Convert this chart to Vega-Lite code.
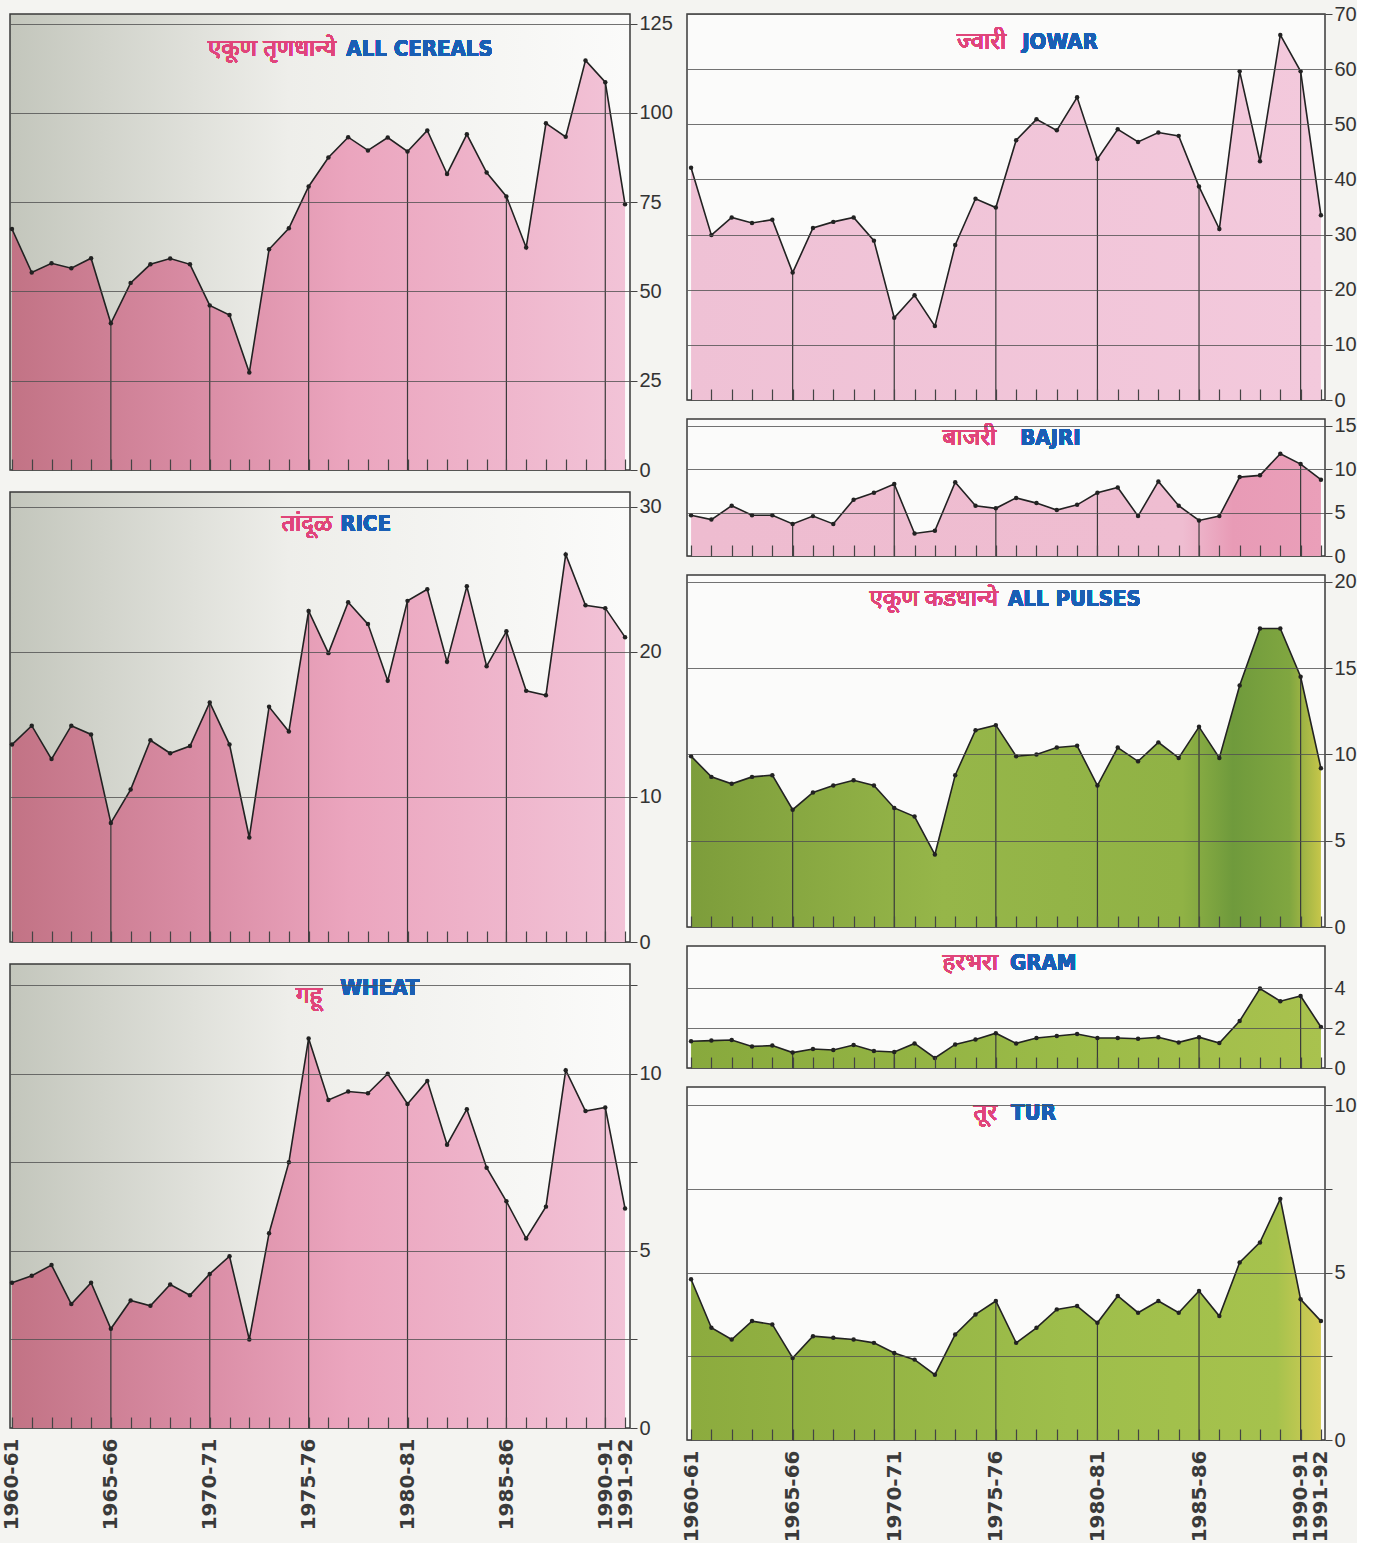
{
  "$schema": "https://vega.github.io/schema/vega-lite/v6.json",
  "background": "#f4f4f1",
  "padding": {"left": 1, "top": 3, "right": 0, "bottom": 0},
  "config": {
    "view": {"stroke": "#3a3a3a", "strokeWidth": 1.5},
    "axis": {"labelFont": "Liberation Sans", "labelColor": "#333333", "gridColor": "#505050", "gridOpacity": 0.8, "gridWidth": 1, "tickColor": "#444444", "domain": false}
  },
  "datasets": {
    "cereals": [
      {"year":1960,"v":67.5},{"year":1961,"v":55.3},{"year":1962,"v":57.9},{"year":1963,"v":56.5},{"year":1964,"v":59.3},{"year":1965,"v":41.1},{"year":1966,"v":52.4},{"year":1967,"v":57.6},{"year":1968,"v":59.2},{"year":1969,"v":57.6},{"year":1970,"v":46.1},{"year":1971,"v":43.4},{"year":1972,"v":27.3},{"year":1973,"v":61.8},{"year":1974,"v":67.7},{"year":1975,"v":79.4},{"year":1976,"v":87.5},{"year":1977,"v":93.2},{"year":1978,"v":89.5},{"year":1979,"v":93.1},{"year":1980,"v":89.2},{"year":1981,"v":95.1},{"year":1982,"v":82.9},{"year":1983,"v":94.0},{"year":1984,"v":83.3},{"year":1985,"v":76.6},{"year":1986,"v":62.3},{"year":1987,"v":97.1},{"year":1988,"v":93.3},{"year":1989,"v":114.7},{"year":1990,"v":108.6},{"year":1991,"v":74.4}
    ],
    "rice": [
      {"year":1960,"v":13.6},{"year":1961,"v":14.9},{"year":1962,"v":12.6},{"year":1963,"v":14.9},{"year":1964,"v":14.3},{"year":1965,"v":8.2},{"year":1966,"v":10.5},{"year":1967,"v":13.9},{"year":1968,"v":13.0},{"year":1969,"v":13.5},{"year":1970,"v":16.5},{"year":1971,"v":13.6},{"year":1972,"v":7.2},{"year":1973,"v":16.2},{"year":1974,"v":14.5},{"year":1975,"v":22.8},{"year":1976,"v":19.9},{"year":1977,"v":23.4},{"year":1978,"v":21.9},{"year":1979,"v":18.0},{"year":1980,"v":23.5},{"year":1981,"v":24.3},{"year":1982,"v":19.3},{"year":1983,"v":24.5},{"year":1984,"v":19.0},{"year":1985,"v":21.4},{"year":1986,"v":17.3},{"year":1987,"v":17.0},{"year":1988,"v":26.7},{"year":1989,"v":23.2},{"year":1990,"v":23.0},{"year":1991,"v":21.0}
    ],
    "wheat": [
      {"year":1960,"v":4.1},{"year":1961,"v":4.3},{"year":1962,"v":4.6},{"year":1963,"v":3.5},{"year":1964,"v":4.1},{"year":1965,"v":2.8},{"year":1966,"v":3.6},{"year":1967,"v":3.45},{"year":1968,"v":4.05},{"year":1969,"v":3.75},{"year":1970,"v":4.35},{"year":1971,"v":4.85},{"year":1972,"v":2.5},{"year":1973,"v":5.5},{"year":1974,"v":7.5},{"year":1975,"v":11.0},{"year":1976,"v":9.26},{"year":1977,"v":9.5},{"year":1978,"v":9.45},{"year":1979,"v":10.0},{"year":1980,"v":9.15},{"year":1981,"v":9.8},{"year":1982,"v":8.0},{"year":1983,"v":9.0},{"year":1984,"v":7.35},{"year":1985,"v":6.4},{"year":1986,"v":5.35},{"year":1987,"v":6.25},{"year":1988,"v":10.1},{"year":1989,"v":8.95},{"year":1990,"v":9.05},{"year":1991,"v":6.2}
    ],
    "jowar": [
      {"year":1960,"v":42.1},{"year":1961,"v":29.9},{"year":1962,"v":33.1},{"year":1963,"v":32.1},{"year":1964,"v":32.7},{"year":1965,"v":23.1},{"year":1966,"v":31.2},{"year":1967,"v":32.3},{"year":1968,"v":33.1},{"year":1969,"v":28.9},{"year":1970,"v":14.9},{"year":1971,"v":19.0},{"year":1972,"v":13.4},{"year":1973,"v":28.1},{"year":1974,"v":36.5},{"year":1975,"v":34.9},{"year":1976,"v":47.1},{"year":1977,"v":50.9},{"year":1978,"v":48.9},{"year":1979,"v":54.9},{"year":1980,"v":43.7},{"year":1981,"v":49.1},{"year":1982,"v":46.8},{"year":1983,"v":48.5},{"year":1984,"v":47.9},{"year":1985,"v":38.7},{"year":1986,"v":31.0},{"year":1987,"v":59.6},{"year":1988,"v":43.3},{"year":1989,"v":66.2},{"year":1990,"v":59.6},{"year":1991,"v":33.5}
    ],
    "bajri": [
      {"year":1960,"v":4.7},{"year":1961,"v":4.2},{"year":1962,"v":5.8},{"year":1963,"v":4.7},{"year":1964,"v":4.7},{"year":1965,"v":3.7},{"year":1966,"v":4.6},{"year":1967,"v":3.7},{"year":1968,"v":6.5},{"year":1969,"v":7.3},{"year":1970,"v":8.3},{"year":1971,"v":2.6},{"year":1972,"v":2.9},{"year":1973,"v":8.5},{"year":1974,"v":5.8},{"year":1975,"v":5.5},{"year":1976,"v":6.7},{"year":1977,"v":6.1},{"year":1978,"v":5.3},{"year":1979,"v":5.9},{"year":1980,"v":7.3},{"year":1981,"v":7.9},{"year":1982,"v":4.6},{"year":1983,"v":8.6},{"year":1984,"v":5.8},{"year":1985,"v":4.1},{"year":1986,"v":4.6},{"year":1987,"v":9.1},{"year":1988,"v":9.3},{"year":1989,"v":11.8},{"year":1990,"v":10.6},{"year":1991,"v":8.8}
    ],
    "pulses": [
      {"year":1960,"v":9.9},{"year":1961,"v":8.7},{"year":1962,"v":8.3},{"year":1963,"v":8.7},{"year":1964,"v":8.8},{"year":1965,"v":6.8},{"year":1966,"v":7.8},{"year":1967,"v":8.2},{"year":1968,"v":8.5},{"year":1969,"v":8.2},{"year":1970,"v":6.9},{"year":1971,"v":6.4},{"year":1972,"v":4.2},{"year":1973,"v":8.8},{"year":1974,"v":11.4},{"year":1975,"v":11.7},{"year":1976,"v":9.9},{"year":1977,"v":10.0},{"year":1978,"v":10.4},{"year":1979,"v":10.5},{"year":1980,"v":8.2},{"year":1981,"v":10.4},{"year":1982,"v":9.6},{"year":1983,"v":10.7},{"year":1984,"v":9.8},{"year":1985,"v":11.6},{"year":1986,"v":9.8},{"year":1987,"v":14.0},{"year":1988,"v":17.3},{"year":1989,"v":17.3},{"year":1990,"v":14.5},{"year":1991,"v":9.2}
    ],
    "gram": [
      {"year":1960,"v":1.34},{"year":1961,"v":1.37},{"year":1962,"v":1.4},{"year":1963,"v":1.08},{"year":1964,"v":1.12},{"year":1965,"v":0.77},{"year":1966,"v":0.95},{"year":1967,"v":0.9},{"year":1968,"v":1.15},{"year":1969,"v":0.85},{"year":1970,"v":0.8},{"year":1971,"v":1.23},{"year":1972,"v":0.5},{"year":1973,"v":1.18},{"year":1974,"v":1.42},{"year":1975,"v":1.74},{"year":1976,"v":1.23},{"year":1977,"v":1.5},{"year":1978,"v":1.6},{"year":1979,"v":1.7},{"year":1980,"v":1.5},{"year":1981,"v":1.5},{"year":1982,"v":1.46},{"year":1983,"v":1.54},{"year":1984,"v":1.28},{"year":1985,"v":1.54},{"year":1986,"v":1.25},{"year":1987,"v":2.35},{"year":1988,"v":3.97},{"year":1989,"v":3.34},{"year":1990,"v":3.6},{"year":1991,"v":2.05}
    ],
    "tur": [
      {"year":1960,"v":4.8},{"year":1961,"v":3.35},{"year":1962,"v":3.0},{"year":1963,"v":3.55},{"year":1964,"v":3.45},{"year":1965,"v":2.45},{"year":1966,"v":3.1},{"year":1967,"v":3.05},{"year":1968,"v":3.0},{"year":1969,"v":2.9},{"year":1970,"v":2.6},{"year":1971,"v":2.4},{"year":1972,"v":1.95},{"year":1973,"v":3.15},{"year":1974,"v":3.75},{"year":1975,"v":4.15},{"year":1976,"v":2.9},{"year":1977,"v":3.35},{"year":1978,"v":3.9},{"year":1979,"v":4.0},{"year":1980,"v":3.5},{"year":1981,"v":4.3},{"year":1982,"v":3.8},{"year":1983,"v":4.15},{"year":1984,"v":3.8},{"year":1985,"v":4.45},{"year":1986,"v":3.7},{"year":1987,"v":5.3},{"year":1988,"v":5.9},{"year":1989,"v":7.2},{"year":1990,"v":4.2},{"year":1991,"v":3.55}
    ]
  },
  "spacing": 6,
  "hconcat": [
    {
      "spacing": 22,
      "bounds": "flush",
      "vconcat": [
        {
          "width": 620, "height": 456,
          "view": {"fill": {"gradient": "linear", "x1": 0, "x2": 1, "y1": 0, "y2": 0, "stops": [{"offset": 0, "color": "#c3c6bc"}, {"offset": 0.45, "color": "#eeeeea"}, {"offset": 1, "color": "#fbfbfa"}]}},
          "data": {"name": "cereals"},
          "encoding": {
            "x": {"field": "year", "type": "quantitative", "scale": {"domain": [1959.9, 1991.25], "nice": false, "zero": false}, "axis": {"title": null, "values": [1960,1961,1962,1963,1964,1965,1966,1967,1968,1969,1970,1971,1972,1973,1974,1975,1976,1977,1978,1979,1980,1981,1982,1983,1984,1985,1986,1987,1988,1989,1990,1991], "labels": false, "grid": false, "tickSize": -11, "tickWidth": 1.2, "zindex": 1}},
            "y": {"field": "v", "type": "quantitative", "scale": {"domain": [0, 127.7], "nice": false}, "axis": {"title": null, "orient": "right", "values": [0, 25, 50, 75, 100, 125], "grid": true, "tickSize": 7, "labelFontSize": 20, "labelPadding": 2, "zindex": 1}}
          },
          "layer": [
            {"mark": {"type": "area", "line": false, "color": {"gradient": "linear", "x1": 0, "x2": 1, "y1": 0, "y2": 0, "stops": [{"offset": 0, "color": "#c27385"}, {"offset": 0.3, "color": "#d98ca4"}, {"offset": 0.55, "color": "#eba5be"}, {"offset": 1, "color": "#f2c3d7"}]}, "opacity": 1}},
            {"transform": [{"filter": "datum.year % 5 == 0 && datum.year > 1960"}], "mark": {"type": "rule", "color": "#3a3a3a", "strokeWidth": 1.2}, "encoding": {"y2": {"datum": 0}}},
            {"mark": {"type": "line", "color": "#222222", "strokeWidth": 1.6, "point": {"filled": true, "size": 20, "color": "#222222"}}},
            {"mark": {"type": "text", "text": "एकूण तृणधान्ये", "align": "right", "dx": -10, "color": "#e0457a", "fontSize": 24, "font": "Noto Sans"}, "encoding": {"x": {"datum": 1976.9, "type": "quantitative"}, "y": {"datum": 118, "type": "quantitative"}}},
            {"mark": {"type": "text", "text": "ALL CEREALS", "align": "left", "color": "#1a5fb4", "fontSize": 22, "fontWeight": "bold", "font": "DejaVu Sans Condensed"}, "encoding": {"x": {"datum": 1976.9, "type": "quantitative"}, "y": {"datum": 118, "type": "quantitative"}}}
          ]
        },
        {
          "width": 620, "height": 450,
          "view": {"fill": {"gradient": "linear", "x1": 0, "x2": 1, "y1": 0, "y2": 0, "stops": [{"offset": 0, "color": "#c3c6bc"}, {"offset": 0.45, "color": "#eeeeea"}, {"offset": 1, "color": "#fbfbfa"}]}},
          "data": {"name": "rice"},
          "encoding": {
            "x": {"field": "year", "type": "quantitative", "scale": {"domain": [1959.9, 1991.25], "nice": false, "zero": false}, "axis": {"title": null, "values": [1960,1961,1962,1963,1964,1965,1966,1967,1968,1969,1970,1971,1972,1973,1974,1975,1976,1977,1978,1979,1980,1981,1982,1983,1984,1985,1986,1987,1988,1989,1990,1991], "labels": false, "grid": false, "tickSize": -11, "tickWidth": 1.2, "zindex": 1}},
            "y": {"field": "v", "type": "quantitative", "scale": {"domain": [0, 31], "nice": false}, "axis": {"title": null, "orient": "right", "values": [0, 10, 20, 30], "grid": true, "tickSize": 7, "labelFontSize": 20, "labelPadding": 2, "zindex": 1}}
          },
          "layer": [
            {"mark": {"type": "area", "line": false, "color": {"gradient": "linear", "x1": 0, "x2": 1, "y1": 0, "y2": 0, "stops": [{"offset": 0, "color": "#c27385"}, {"offset": 0.3, "color": "#d98ca4"}, {"offset": 0.55, "color": "#eba5be"}, {"offset": 1, "color": "#f2c3d7"}]}, "opacity": 1}},
            {"transform": [{"filter": "datum.year % 5 == 0 && datum.year > 1960"}], "mark": {"type": "rule", "color": "#3a3a3a", "strokeWidth": 1.2}, "encoding": {"y2": {"datum": 0}}},
            {"mark": {"type": "line", "color": "#222222", "strokeWidth": 1.6, "point": {"filled": true, "size": 20, "color": "#222222"}}},
            {"mark": {"type": "text", "text": "तांदूळ", "align": "right", "dx": -8, "color": "#e0457a", "fontSize": 24, "font": "Noto Sans"}, "encoding": {"x": {"datum": 1976.6, "type": "quantitative"}, "y": {"datum": 28.8, "type": "quantitative"}}},
            {"mark": {"type": "text", "text": "RICE", "align": "left", "color": "#1a5fb4", "fontSize": 22, "fontWeight": "bold", "font": "DejaVu Sans Condensed"}, "encoding": {"x": {"datum": 1976.6, "type": "quantitative"}, "y": {"datum": 28.8, "type": "quantitative"}}}
          ]
        },
        {
          "width": 620, "height": 464,
          "view": {"fill": {"gradient": "linear", "x1": 0, "x2": 1, "y1": 0, "y2": 0, "stops": [{"offset": 0, "color": "#c3c6bc"}, {"offset": 0.45, "color": "#eeeeea"}, {"offset": 1, "color": "#fbfbfa"}]}},
          "data": {"name": "wheat"},
          "encoding": {
            "x": {"field": "year", "type": "quantitative", "scale": {"domain": [1959.9, 1991.25], "nice": false, "zero": false}, "axis": {"title": null, "values": [1960,1961,1962,1963,1964,1965,1966,1967,1968,1969,1970,1971,1972,1973,1974,1975,1976,1977,1978,1979,1980,1981,1982,1983,1984,1985,1986,1987,1988,1989,1990,1991], "labels": true, "labelExpr": "indexof([1960,1965,1970,1975,1980,1985,1990,1991], datum.value) >= 0 ? datum.value + '-' + substring(toString(datum.value + 1), 2, 4) : ''", "labelAngle": 270, "labelPadding": 21, "labelFont": "DejaVu Sans", "labelFontSize": 20, "labelFontWeight": "bold", "labelOverlap": false, "labelFlush": false, "labelColor": "#3a3a3a", "grid": false, "tickSize": -11, "tickWidth": 1.2, "zindex": 1}},
            "y": {"field": "v", "type": "quantitative", "scale": {"domain": [0, 13.1], "nice": false}, "axis": {"title": null, "orient": "right", "values": [0, 2.5, 5, 7.5, 10, 12.5], "labelExpr": "datum.value % 5 == 0 ? datum.label : ''", "grid": true, "tickSize": 7, "labelFontSize": 20, "labelPadding": 2, "zindex": 1}}
          },
          "layer": [
            {"mark": {"type": "area", "line": false, "color": {"gradient": "linear", "x1": 0, "x2": 1, "y1": 0, "y2": 0, "stops": [{"offset": 0, "color": "#c27385"}, {"offset": 0.3, "color": "#d98ca4"}, {"offset": 0.55, "color": "#eba5be"}, {"offset": 1, "color": "#f2c3d7"}]}, "opacity": 1}},
            {"transform": [{"filter": "datum.year % 5 == 0 && datum.year > 1960"}], "mark": {"type": "rule", "color": "#3a3a3a", "strokeWidth": 1.2}, "encoding": {"y2": {"datum": 0}}},
            {"mark": {"type": "line", "color": "#222222", "strokeWidth": 1.6, "point": {"filled": true, "size": 20, "color": "#222222"}}},
            {"mark": {"type": "text", "text": "गहू", "align": "right", "dx": -18, "color": "#e0457a", "fontSize": 24, "font": "Noto Sans"}, "encoding": {"x": {"datum": 1976.6, "type": "quantitative"}, "y": {"datum": 12.2, "type": "quantitative"}}},
            {"mark": {"type": "text", "text": "WHEAT", "align": "left", "color": "#1a5fb4", "fontSize": 22, "fontWeight": "bold", "font": "DejaVu Sans Condensed"}, "encoding": {"x": {"datum": 1976.6, "type": "quantitative"}, "y": {"datum": 12.43, "type": "quantitative"}}}
          ]
        }
      ]
    },
    {
      "spacing": 19,
      "bounds": "flush",
      "vconcat": [
        {
          "width": 638, "height": 386,
          "view": {"fill": "#fbfbfa"},
          "data": {"name": "jowar"},
          "encoding": {
            "x": {"field": "year", "type": "quantitative", "scale": {"domain": [1959.8, 1991.2], "nice": false, "zero": false}, "axis": {"title": null, "values": [1960,1961,1962,1963,1964,1965,1966,1967,1968,1969,1970,1971,1972,1973,1974,1975,1976,1977,1978,1979,1980,1981,1982,1983,1984,1985,1986,1987,1988,1989,1990,1991], "labels": false, "grid": false, "tickSize": -11, "tickWidth": 1.2, "zindex": 1}},
            "y": {"field": "v", "type": "quantitative", "scale": {"domain": [0, 70], "nice": false}, "axis": {"title": null, "orient": "right", "values": [0, 10, 20, 30, 40, 50, 60, 70], "grid": true, "tickSize": 7, "labelFontSize": 20, "labelPadding": 2, "zindex": 1}}
          },
          "layer": [
            {"mark": {"type": "area", "line": false, "color": {"gradient": "linear", "x1": 0, "x2": 1, "y1": 0, "y2": 0, "stops": [{"offset": 0, "color": "#efc1d5"}, {"offset": 1, "color": "#f3c9dc"}]}, "opacity": 1}},
            {"transform": [{"filter": "datum.year % 5 == 0 && datum.year > 1960"}], "mark": {"type": "rule", "color": "#3a3a3a", "strokeWidth": 1.2}, "encoding": {"y2": {"datum": 0}}},
            {"mark": {"type": "line", "color": "#222222", "strokeWidth": 1.6, "point": {"filled": true, "size": 20, "color": "#222222"}}},
            {"mark": {"type": "text", "text": "ज्वारी", "align": "right", "dx": -16, "color": "#e0457a", "fontSize": 24, "font": "Noto Sans"}, "encoding": {"x": {"datum": 1976.3, "type": "quantitative"}, "y": {"datum": 65, "type": "quantitative"}}},
            {"mark": {"type": "text", "text": "JOWAR", "align": "left", "color": "#1a5fb4", "fontSize": 22, "fontWeight": "bold", "font": "DejaVu Sans Condensed"}, "encoding": {"x": {"datum": 1976.3, "type": "quantitative"}, "y": {"datum": 65, "type": "quantitative"}}}
          ]
        },
        {
          "width": 638, "height": 137,
          "view": {"fill": "#fbfbfa"},
          "data": {"name": "bajri"},
          "encoding": {
            "x": {"field": "year", "type": "quantitative", "scale": {"domain": [1959.8, 1991.2], "nice": false, "zero": false}, "axis": {"title": null, "values": [1960,1961,1962,1963,1964,1965,1966,1967,1968,1969,1970,1971,1972,1973,1974,1975,1976,1977,1978,1979,1980,1981,1982,1983,1984,1985,1986,1987,1988,1989,1990,1991], "labels": false, "grid": false, "tickSize": -11, "tickWidth": 1.2, "zindex": 1}},
            "y": {"field": "v", "type": "quantitative", "scale": {"domain": [0, 15.8], "nice": false}, "axis": {"title": null, "orient": "right", "values": [0, 5, 10, 15], "grid": true, "tickSize": 7, "labelFontSize": 20, "labelPadding": 2, "zindex": 1}}
          },
          "layer": [
            {"mark": {"type": "area", "line": false, "color": {"gradient": "linear", "x1": 0, "x2": 1, "y1": 0, "y2": 0, "stops": [{"offset": 0, "color": "#eebcd0"}, {"offset": 0.78, "color": "#efbdd1"}, {"offset": 0.86, "color": "#e89bb6"}, {"offset": 1, "color": "#ea9fb9"}]}, "opacity": 1}},
            {"transform": [{"filter": "datum.year % 5 == 0 && datum.year > 1960"}], "mark": {"type": "rule", "color": "#3a3a3a", "strokeWidth": 1.2}, "encoding": {"y2": {"datum": 0}}},
            {"mark": {"type": "line", "color": "#222222", "strokeWidth": 1.6, "point": {"filled": true, "size": 20, "color": "#222222"}}},
            {"mark": {"type": "text", "text": "बाजरी", "align": "right", "dx": -24, "color": "#e0457a", "fontSize": 24, "font": "Noto Sans"}, "encoding": {"x": {"datum": 1976.2, "type": "quantitative"}, "y": {"datum": 13.6, "type": "quantitative"}}},
            {"mark": {"type": "text", "text": "BAJRI", "align": "left", "color": "#1a5fb4", "fontSize": 22, "fontWeight": "bold", "font": "DejaVu Sans Condensed"}, "encoding": {"x": {"datum": 1976.2, "type": "quantitative"}, "y": {"datum": 13.6, "type": "quantitative"}}}
          ]
        },
        {
          "width": 638, "height": 352,
          "view": {"fill": "#fbfbfa"},
          "data": {"name": "pulses"},
          "encoding": {
            "x": {"field": "year", "type": "quantitative", "scale": {"domain": [1959.8, 1991.2], "nice": false, "zero": false}, "axis": {"title": null, "values": [1960,1961,1962,1963,1964,1965,1966,1967,1968,1969,1970,1971,1972,1973,1974,1975,1976,1977,1978,1979,1980,1981,1982,1983,1984,1985,1986,1987,1988,1989,1990,1991], "labels": false, "grid": false, "tickSize": -11, "tickWidth": 1.2, "zindex": 1}},
            "y": {"field": "v", "type": "quantitative", "scale": {"domain": [0, 20.4], "nice": false}, "axis": {"title": null, "orient": "right", "values": [0, 5, 10, 15, 20], "grid": true, "tickSize": 7, "labelFontSize": 20, "labelPadding": 2, "zindex": 1}}
          },
          "layer": [
            {"mark": {"type": "area", "line": false, "color": {"gradient": "linear", "x1": 0, "x2": 1, "y1": 0, "y2": 0, "stops": [{"offset": 0, "color": "#7d9d3b"}, {"offset": 0.4, "color": "#96b649"}, {"offset": 0.78, "color": "#90b245"}, {"offset": 0.86, "color": "#6f9a3c"}, {"offset": 0.95, "color": "#80a640"}, {"offset": 1, "color": "#c6c64a"}]}, "opacity": 1}},
            {"transform": [{"filter": "datum.year % 5 == 0 && datum.year > 1960"}], "mark": {"type": "rule", "color": "#3a3a3a", "strokeWidth": 1.2}, "encoding": {"y2": {"datum": 0}}},
            {"mark": {"type": "line", "color": "#222222", "strokeWidth": 1.6, "point": {"filled": true, "size": 20, "color": "#222222"}}},
            {"mark": {"type": "text", "text": "एकूण कडधान्ये", "align": "right", "dx": -10, "color": "#e0457a", "fontSize": 24, "font": "Noto Sans"}, "encoding": {"x": {"datum": 1975.6, "type": "quantitative"}, "y": {"datum": 19.0, "type": "quantitative"}}},
            {"mark": {"type": "text", "text": "ALL PULSES", "align": "left", "color": "#1a5fb4", "fontSize": 22, "fontWeight": "bold", "font": "DejaVu Sans Condensed"}, "encoding": {"x": {"datum": 1975.6, "type": "quantitative"}, "y": {"datum": 19.0, "type": "quantitative"}}}
          ]
        },
        {
          "width": 638, "height": 122,
          "view": {"fill": "#fbfbfa"},
          "data": {"name": "gram"},
          "encoding": {
            "x": {"field": "year", "type": "quantitative", "scale": {"domain": [1959.8, 1991.2], "nice": false, "zero": false}, "axis": {"title": null, "values": [1960,1961,1962,1963,1964,1965,1966,1967,1968,1969,1970,1971,1972,1973,1974,1975,1976,1977,1978,1979,1980,1981,1982,1983,1984,1985,1986,1987,1988,1989,1990,1991], "labels": false, "grid": false, "tickSize": -11, "tickWidth": 1.2, "zindex": 1}},
            "y": {"field": "v", "type": "quantitative", "scale": {"domain": [0, 6.1], "nice": false}, "axis": {"title": null, "orient": "right", "values": [0, 2, 4], "grid": true, "tickSize": 7, "labelFontSize": 20, "labelPadding": 2, "zindex": 1}}
          },
          "layer": [
            {"mark": {"type": "area", "line": false, "color": {"gradient": "linear", "x1": 0, "x2": 1, "y1": 0, "y2": 0, "stops": [{"offset": 0, "color": "#88a93d"}, {"offset": 0.6, "color": "#9bbb48"}, {"offset": 1, "color": "#a9c24e"}]}, "opacity": 1}},
            {"transform": [{"filter": "datum.year % 5 == 0 && datum.year > 1960"}], "mark": {"type": "rule", "color": "#3a3a3a", "strokeWidth": 1.2}, "encoding": {"y2": {"datum": 0}}},
            {"mark": {"type": "line", "color": "#222222", "strokeWidth": 1.6, "point": {"filled": true, "size": 20, "color": "#222222"}}},
            {"mark": {"type": "text", "text": "हरभरा", "align": "right", "dx": -12, "color": "#e0457a", "fontSize": 24, "font": "Noto Sans"}, "encoding": {"x": {"datum": 1975.7, "type": "quantitative"}, "y": {"datum": 5.25, "type": "quantitative"}}},
            {"mark": {"type": "text", "text": "GRAM", "align": "left", "color": "#1a5fb4", "fontSize": 22, "fontWeight": "bold", "font": "DejaVu Sans Condensed"}, "encoding": {"x": {"datum": 1975.7, "type": "quantitative"}, "y": {"datum": 5.25, "type": "quantitative"}}}
          ]
        },
        {
          "width": 638, "height": 353,
          "view": {"fill": "#fbfbfa"},
          "data": {"name": "tur"},
          "encoding": {
            "x": {"field": "year", "type": "quantitative", "scale": {"domain": [1959.8, 1991.2], "nice": false, "zero": false}, "axis": {"title": null, "values": [1960,1961,1962,1963,1964,1965,1966,1967,1968,1969,1970,1971,1972,1973,1974,1975,1976,1977,1978,1979,1980,1981,1982,1983,1984,1985,1986,1987,1988,1989,1990,1991], "labels": true, "labelExpr": "indexof([1960,1965,1970,1975,1980,1985,1990,1991], datum.value) >= 0 ? datum.value + '-' + substring(toString(datum.value + 1), 2, 4) : ''", "labelAngle": 270, "labelPadding": 21, "labelFont": "DejaVu Sans", "labelFontSize": 20, "labelFontWeight": "bold", "labelOverlap": false, "labelFlush": false, "labelColor": "#3a3a3a", "grid": false, "tickSize": -11, "tickWidth": 1.2, "zindex": 1}},
            "y": {"field": "v", "type": "quantitative", "scale": {"domain": [0, 10.54], "nice": false}, "axis": {"title": null, "orient": "right", "values": [0, 2.5, 5, 7.5, 10], "labelExpr": "datum.value % 5 == 0 ? datum.label : ''", "grid": true, "tickSize": 7, "labelFontSize": 20, "labelPadding": 2, "zindex": 1}}
          },
          "layer": [
            {"mark": {"type": "area", "line": false, "color": {"gradient": "linear", "x1": 0, "x2": 1, "y1": 0, "y2": 0, "stops": [{"offset": 0, "color": "#8cab3e"}, {"offset": 0.6, "color": "#9ebe4b"}, {"offset": 0.93, "color": "#a6c24d"}, {"offset": 1, "color": "#d4cc55"}]}, "opacity": 1}},
            {"transform": [{"filter": "datum.year % 5 == 0 && datum.year > 1960"}], "mark": {"type": "rule", "color": "#3a3a3a", "strokeWidth": 1.2}, "encoding": {"y2": {"datum": 0}}},
            {"mark": {"type": "line", "color": "#222222", "strokeWidth": 1.6, "point": {"filled": true, "size": 20, "color": "#222222"}}},
            {"mark": {"type": "text", "text": "तूर", "align": "right", "dx": -14, "color": "#e0457a", "fontSize": 24, "font": "Noto Sans"}, "encoding": {"x": {"datum": 1975.75, "type": "quantitative"}, "y": {"datum": 9.76, "type": "quantitative"}}},
            {"mark": {"type": "text", "text": "TUR", "align": "left", "color": "#1a5fb4", "fontSize": 22, "fontWeight": "bold", "font": "DejaVu Sans Condensed"}, "encoding": {"x": {"datum": 1975.75, "type": "quantitative"}, "y": {"datum": 9.76, "type": "quantitative"}}}
          ]
        }
      ]
    }
  ]
}
